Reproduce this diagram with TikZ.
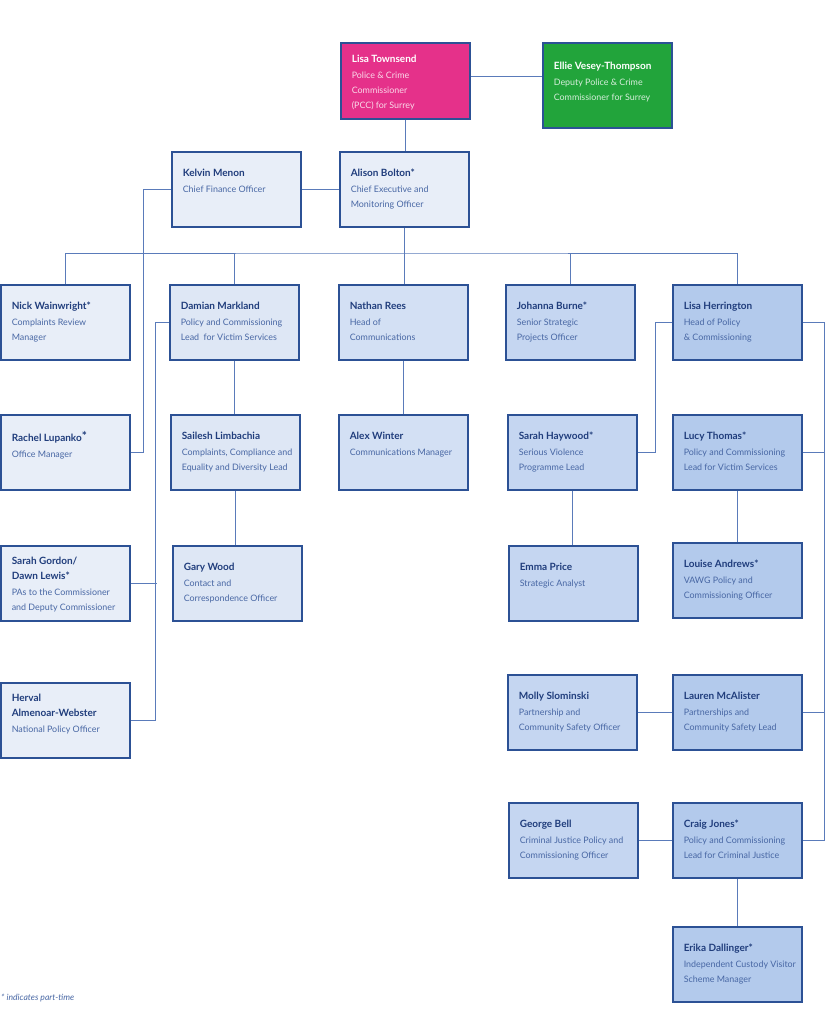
\documentclass[tikz,border=0pt]{standalone}
\usepackage{fontspec}
\setmainfont{Lato}
\usepackage{xcolor}
\usepackage{tikz}

\definecolor{boxline}{HTML}{2C5195}
\definecolor{linkblue}{HTML}{5A7BBA}
\definecolor{namecol}{HTML}{203D7C}
\definecolor{rolecol}{HTML}{4867A4}
\definecolor{pccpink}{HTML}{E5318A}
\definecolor{deputygreen}{HTML}{22A43B}
\definecolor{tintA}{HTML}{E8EEF8}
\definecolor{tintB}{HTML}{DEE7F5}
\definecolor{tintC}{HTML}{D3E0F4}
\definecolor{tintD}{HTML}{C5D6F1}
\definecolor{tintE}{HTML}{B3CAEC}

\newcommand{\namefont}{\fontsize{10}{15}\selectfont\bfseries\color{namecol}}
\newcommand{\rolefont}{\fontsize{8.9}{15}\selectfont\color{rolecol}}
\newcommand{\staff}[3][17pt]{%
  \parbox[c][75pt][t]{129pt}{\raggedright\leftskip=11pt\vspace*{#1}%
    {\namefont #2\par}\vspace{1pt}{\rolefont #3\par}}}

\tikzset{
  card/.style={draw=boxline, line width=1.6pt, fill=#1, anchor=north west,
    inner sep=0pt, minimum width=129pt, minimum height=75pt},
  whitecard/.style={card=#1, execute at begin node={%
    \colorlet{namecol}{white}\colorlet{rolecol}{white!82!#1}}},
  link/.style={draw=linkblue, line width=0.9pt}
}

\begin{document}
\begin{tikzpicture}[x=1pt, y=-1pt]
  \useasboundingbox (0,0) rectangle (824,1024);

  \node[whitecard=pccpink, minimum height=76pt] (townsend) at (340,42)
    {\staff[12pt]{Lisa Townsend}{Police \& Crime\\Commissioner\\(PCC) for Surrey}};
  \node[whitecard=deputygreen, minimum height=85pt] (ellie) at (542,42)
    {\staff[14pt]{Ellie Vesey-Thompson}{Deputy Police \& Crime\\Commissioner for Surrey}};
  \node[card=tintA] (kelvin) at (171,151) {\staff{Kelvin Menon}{Chief Finance Officer}};
  \node[card=tintA] (alison) at (339,151) {\staff{Alison Bolton*}{Chief Executive and\\Monitoring Officer}};

  \node[card=tintA] (nick) at (0,284) {\staff{Nick Wainwright*}{Complaints Review\\Manager}};
  \node[card=tintB] (damian) at (169,284) {\staff{Damian Markland}{Policy and Commissioning\\Lead~ for Victim Services}};
  \node[card=tintC] (nathan) at (338,284) {\staff{Nathan Rees}{Head of\\Communications}};
  \node[card=tintD] (johanna) at (505,284) {\staff{Johanna Burne*}{Senior Strategic\\Projects Officer}};
  \node[card=tintE] (lisah) at (672,284) {\staff{Lisa Herrington}{Head of Policy\\\& Commissioning}};

  \node[card=tintA] (rachel) at (0,414)
    {\staff{Rachel Lupanko\raisebox{1pt}{\fontsize{12}{12}\selectfont*}}{Office Manager}};
  \node[card=tintB] (sailesh) at (170,414) {\staff{Sailesh Limbachia}{Complaints, Compliance and\\Equality and Diversity Lead}};
  \node[card=tintC] (alex) at (338,414) {\staff{Alex Winter}{Communications Manager}};
  \node[card=tintD] (haywood) at (507,414) {\staff{Sarah Haywood*}{Serious Violence\\Programme Lead}};
  \node[card=tintE] (lucy) at (672,414) {\staff{Lucy Thomas*}{Policy and Commissioning\\Lead for Victim Services}};

  \node[card=tintA] (sgordon) at (0,545)
    {\staff[11pt]{Sarah Gordon/\\Dawn Lewis*}{PAs to the Commissioner\\and Deputy Commissioner}};
  \node[card=tintB] (gary) at (172,545) {\staff{Gary Wood}{Contact and\\Correspondence Officer}};
  \node[card=tintD] (emma) at (508,545) {\staff{Emma Price}{Strategic Analyst}};
  \node[card=tintE] (louise) at (672,542) {\staff{Louise Andrews*}{VAWG Policy and\\Commissioning Officer}};

  \node[card=tintA] (herval) at (0,682) {\staff[11pt]{Herval\\Almenoar-Webster}{National Policy Officer}};
  \node[card=tintD] (molly) at (507,674) {\staff{Molly Slominski}{Partnership and\\Community Safety Officer}};
  \node[card=tintE] (lauren) at (672,674) {\staff{Lauren McAlister}{Partnerships and\\Community Safety Lead}};

  \node[card=tintD] (george) at (508,802) {\staff{George Bell}{Criminal Justice Policy and\\Commissioning Officer}};
  \node[card=tintE] (craig) at (672,802) {\staff{Craig Jones*}{Policy and Commissioning\\Lead for Criminal Justice}};
  \node[card=tintE] (erika) at (672,926) {\staff{Erika Dallinger*}{Independent Custody Visitor\\Scheme Manager}};

  \node[anchor=west, inner sep=0pt, text=rolecol, font=\itshape\fontsize{8.6}{10}\selectfont] (note) at (1,998)
    {* indicates part-time};

  \coordinate (bus) at (402,253);
  \draw[link] ([yshift=4pt]townsend.east) -- ([yshift=4pt]townsend.east -| ellie.west);
  \draw[link] (townsend.south) -- (townsend.south |- alison.north);
  \draw[link] (kelvin.east) -- (alison.west);
  \draw[link] (alison.south) -- (alison.south |- nathan.north);
  \draw[link] (nick.north) |- (bus) -| (lisah.north);
  \draw[link] (damian.north) -- (damian.north |- bus);
  \draw[link] (johanna.north) -- (johanna.north |- bus);

  \draw[link] (kelvin.west) -- ++(-28,0) |- (rachel.east);
  \draw[link] (damian.west) -- ++(-14,0) |- (herval.east);
  \draw[link] (sgordon.east) -- ++(26,0);
  \draw[link] (damian.south) -- (damian.south |- sailesh.north);
  \draw[link] (sailesh.south) -- (sailesh.south |- gary.north);
  \draw[link] (nathan.south) -- (nathan.south |- alex.north);

  \draw[link] (lisah.west) -- ++(-17,0) |- (haywood.east);
  \draw[link] (lisah.east) -- ++(22,0) |- (craig.east);
  \draw[link] (lucy.east) -- ++(22,0);
  \draw[link] (lauren.east) -- ++(22,0);
  \draw[link] (haywood.south) -- (haywood.south |- emma.north);
  \draw[link] (lucy.south) -- (lucy.south |- louise.north);
  \draw[link] (molly) -- (lauren);
  \draw[link] (george) -- (craig);
  \draw[link] (craig.south) -- (craig.south |- erika.north);
\end{tikzpicture}
\end{document}
